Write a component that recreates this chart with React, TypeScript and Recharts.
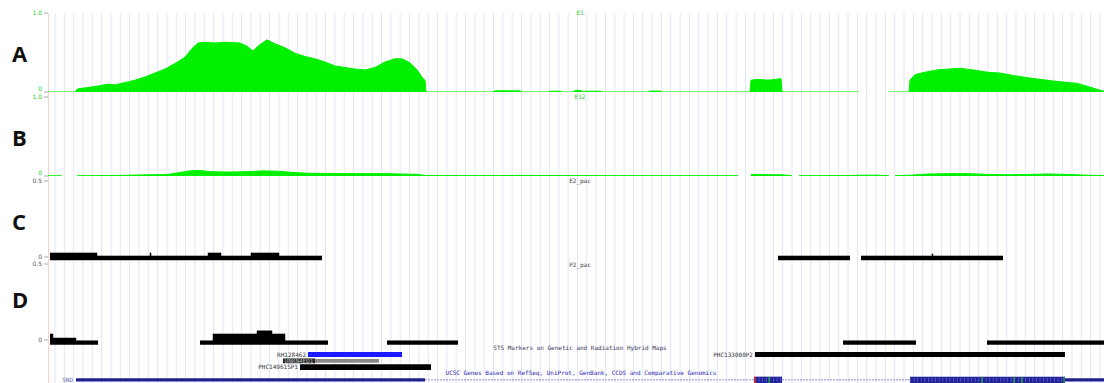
import {
  ComposedChart,
  Area,
  XAxis,
  YAxis,
  ReferenceLine,
  ReferenceArea,
} from 'recharts'

const W = 1104
const H = 383
const SPAN = 1056 // bins across the browser window
const GREEN = '#00f000'

// coverage tracks as [bin, value]; null = no data
const trackA: [number, number | null][] = [
  [0, 0], [27, 0], [28, 0.02], [30, 0.04], [42, 0.06], [52, 0.08], [60, 0.1],
  [67, 0.09], [77, 0.12], [87, 0.15], [97, 0.19], [107, 0.24], [117, 0.29],
  [127, 0.36], [137, 0.44], [144, 0.55], [150, 0.62], [157, 0.63], [167, 0.62],
  [177, 0.63], [192, 0.62], [199, 0.58], [205, 0.52], [212, 0.6], [219, 0.66],
  [227, 0.61], [237, 0.56], [247, 0.49], [257, 0.45], [267, 0.42], [277, 0.38],
  [287, 0.33], [297, 0.31], [307, 0.29], [317, 0.28], [327, 0.31], [337, 0.38],
  [347, 0.42], [354, 0.42], [362, 0.37], [369, 0.28], [375, 0.17], [377, 0.15],
  [378, 0], [445, 0], [447, 0.015], [472, 0.015], [474, 0], [500, 0],
  [502, 0.01], [512, 0.01], [514, 0], [525, 0], [527, 0.02], [533, 0.02],
  [535, 0], [537, 0.01], [552, 0.01], [554, 0], [600, 0], [602, 0.012],
  [612, 0.012], [614, 0], [702, 0], [703, 0.15], [710, 0.16], [720, 0.15],
  [728, 0.16], [733, 0.17], [734, 0], [811, 0], [812, null], [839, null],
  [840, 0], [861, 0], [862, 0.15], [867, 0.22], [877, 0.25], [889, 0.28],
  [900, 0.29], [912, 0.3], [925, 0.28], [940, 0.25], [952, 0.24], [965, 0.21],
  [980, 0.18], [992, 0.16], [1005, 0.14], [1020, 0.12], [1029, 0.11],
  [1040, 0.07], [1050, 0.03], [1056, 0.01],
]

const trackB: [number, number | null][] = [
  [0, 0.003], [14, 0.003], [15, null], [28, null], [29, 0.003], [60, 0.005],
  [80, 0.01], [100, 0.015], [120, 0.02], [132, 0.045], [142, 0.065],
  [152, 0.07], [162, 0.055], [180, 0.05], [200, 0.055], [215, 0.065],
  [230, 0.06], [245, 0.045], [260, 0.035], [300, 0.03], [340, 0.03],
  [370, 0.02], [378, 0.005], [450, 0.005], [470, 0.008], [520, 0.005],
  [600, 0.004], [690, 0.004], [691, null], [702, null], [703, 0.02],
  [734, 0.015], [744, 0.004], [745, null], [750, null], [751, 0.004],
  [800, 0.005], [812, 0.01], [830, 0.01], [841, 0.004], [842, null],
  [846, null], [847, 0.004], [862, 0.01], [880, 0.025], [900, 0.03],
  [920, 0.03], [940, 0.02], [960, 0.015], [980, 0.02], [1000, 0.025],
  [1020, 0.02], [1040, 0.01], [1056, 0.005],
]

// peak-call tracks, step values; low edge of the drawn bar
const trackC: [number, number | null][] = [
  [0, null], [2, 0.027], [49, 0.007], [102, 0.027], [103, 0.007], [160, 0.027],
  [173, 0.007], [203, 0.027], [231, 0.007], [274, 0.007], [275, null],
  [729, null], [730, 0.007], [802, 0.007], [803, null], [812, null],
  [813, 0.007], [884, 0.02], [885, 0.007], [955, 0.007], [956, null],
]
const cLow = -0.02

const trackD: [number, number | null][] = [
  [0, null], [2, 0.04], [5, 0.013], [28, -0.005], [50, -0.005], [51, null],
  [151, null], [152, -0.005], [165, 0.04], [209, 0.06], [224, 0.04],
  [237, -0.005], [280, -0.005], [281, null], [338, null], [339, -0.005],
  [410, -0.005], [411, null], [794, null], [795, -0.005], [868, -0.005],
  [869, null], [938, null], [939, -0.005], [1056, -0.005],
]
const dLow = -0.03

const gridTicks = Array.from({ length: 113 }, (_, i) => 7 + i * 9.33)

// STS markers
const stsNames = ['RH128462', 'PHC133000P2', 'UNRN4ED1', 'PHC14961SP1']
const stsStart = [260, 707, 267, 252]
const stsEnd = [354, 1017, 331, 383]
const stsRow = [0, 0, 1, 2]
const stsColor: Record<string, string> = {
  RH128462: '#1a1aff',
  PHC133000P2: '#000',
  UNRN4ED1: '#8a8a8a',
  PHC14961SP1: '#000',
}

// UCSC gene model
const geneName = 'SND'
const geneRow = 4
const utrStart = [28, 1017]
const utrEnd = [377, 1056]
const intronStart = [377, 734]
const intronEnd = [707, 862]
const exonStart = [707, 862]
const exonEnd = [734, 1017]
const frameMarks = [721, 934, 966, 974, 1016]
const startMark = 707

const tiny = { fontFamily: 'DejaVu Sans', fontSize: 6 }
const mono = { fontFamily: 'DejaVu Sans Mono', fontSize: 6 }

function makeTick(color: string, zeroShift: number) {
  return (p: any) => (
    <text
      x={p.x}
      y={p.y + (p.payload.value === 0 ? zeroShift : 0) + 2}
      textAnchor="end"
      fill={color}
      style={tiny}
    >
      {p.payload.value === 0 ? '0' : Number(p.payload.value).toFixed(1)}
    </text>
  )
}

type TrackProps = {
  top: number
  height: number
  mTop: number
  mBottom: number
  domain: [number, number]
  ticks: number[]
  tickColor: string
  zeroShift: number
  children: React.ReactNode
  data: any[]
}

function Track(p: TrackProps) {
  return (
    <div style={{ position: 'absolute', top: p.top, left: 0 }}>
      <ComposedChart
        width={W}
        height={p.height}
        data={p.data}
        margin={{ top: p.mTop, bottom: p.mBottom, left: 0, right: 0 }}
      >
        <XAxis type="number" dataKey="pos" domain={[0, SPAN]} hide allowDataOverflow />
        <YAxis
          width={48}
          domain={p.domain}
          ticks={p.ticks}
          interval={0}
          allowDataOverflow
          axisLine={false}
          tickSize={4}
          tickLine={{ stroke: '#aaa' }}
          tick={makeTick(p.tickColor, p.zeroShift)}
        />
        {p.children}
      </ComposedChart>
    </div>
  )
}

export default function App() {
  const dataA = trackA.map(([pos, v]) => ({ pos, v }))
  const dataB = trackB.map(([pos, v]) => ({ pos, v }))
  const dataC = trackC.map(([pos, v]) => ({ pos, v: v == null ? null : [cLow, v] }))
  const dataD = trackD.map(([pos, v]) => ({ pos, v: v == null ? null : [dLow, v] }))

  return (
    <div
      style={{
        position: 'absolute',
        top: 0,
        left: 0,
        width: W,
        height: H,
        background: '#fff',
        overflow: 'hidden',
      }}
    >
      {/* browser grid behind every track */}
      <div style={{ position: 'absolute', top: 0, left: 0 }}>
        <ComposedChart
          width={W}
          height={H}
          data={[{ pos: 0, r: 0 }, { pos: SPAN, r: 1 }]}
          margin={{ top: 13, bottom: 0, left: 48, right: 0 }}
        >
          <XAxis type="number" dataKey="pos" domain={[0, SPAN]} hide allowDataOverflow />
          <YAxis type="number" dataKey="r" domain={[0, 1]} hide />
          {gridTicks.map((t) => (
            <ReferenceLine key={t} x={t} stroke="#e4e4fa" strokeWidth={1} />
          ))}
          <ReferenceLine x={0.5} stroke="#ffcccc" strokeWidth={1} />
        </ComposedChart>
      </div>

      <Track top={0} height={96} mTop={13} mBottom={4} domain={[0, 1]} ticks={[0, 1]}
        tickColor="#22cc22" zeroShift={-3} data={dataA}>
        <Area type="linear" dataKey="v" stroke={GREEN} strokeWidth={1} fill={GREEN}
          fillOpacity={1} dot={false} activeDot={false} isAnimationActive={false} />
      </Track>

      <Track top={88} height={92} mTop={9} mBottom={4} domain={[0, 1]} ticks={[0, 1]}
        tickColor="#22cc22" zeroShift={-3} data={dataB}>
        <Area type="linear" dataKey="v" stroke={GREEN} strokeWidth={1} fill={GREEN}
          fillOpacity={1} dot={false} activeDot={false} isAnimationActive={false} />
      </Track>

      <Track top={172} height={92} mTop={9} mBottom={2} domain={[-0.033, 0.5]} ticks={[0, 0.5]}
        tickColor="#555" zeroShift={0} data={dataC}>
        <Area type="stepAfter" dataKey="v" stroke="#000" strokeWidth={0.5} fill="#000"
          fillOpacity={1} dot={false} activeDot={false} isAnimationActive={false} />
      </Track>

      <Track top={256} height={89} mTop={8} mBottom={0} domain={[-0.033, 0.5]} ticks={[0, 0.5]}
        tickColor="#555" zeroShift={0} data={dataD}>
        <Area type="stepAfter" dataKey="v" stroke="#000" strokeWidth={0.5} fill="#000"
          fillOpacity={1} dot={false} activeDot={false} isAnimationActive={false} />
      </Track>

      {/* STS markers and gene model */}
      <div style={{ position: 'absolute', top: 345, left: 0 }}>
        <ComposedChart
          width={W}
          height={38}
          data={[{ pos: 0, r: 0 }, { pos: SPAN, r: 0 }]}
          margin={{ top: 0, bottom: 0, left: 48, right: 0 }}
        >
          <XAxis type="number" dataKey="pos" domain={[0, SPAN]} hide allowDataOverflow />
          <YAxis type="number" dataKey="r" domain={[-1.5, 4.5]} reversed hide allowDataOverflow />
          {stsNames.map((name, i) => {
            const half = name === 'UNRN4ED1' ? 0.3 : name === 'PHC14961SP1' ? 0.45 : 0.4
            const label =
              name === 'UNRN4ED1'
                ? {
                    content: (lp: any) => {
                      const vb = lp.viewBox
                      return (
                        <g>
                          <rect x={vb.x - 32} y={vb.y - 0.5} width={32} height={vb.height + 1} fill="#222" />
                          <text x={vb.x - 16} y={vb.y + vb.height / 2 + 2} textAnchor="middle"
                            fill="#bbb" style={mono}>{name}</text>
                        </g>
                      )
                    },
                  }
                : { value: name, position: 'left' as const, offset: 2, fill: '#333', style: mono }
            return (
              <ReferenceArea
                key={name}
                x1={stsStart[i]}
                x2={stsEnd[i]}
                y1={stsRow[i] - half}
                y2={stsRow[i] + half}
                fill={stsColor[name]}
                fillOpacity={1}
                stroke="none"
                label={label}
              />
            )
          })}

          {intronStart.map((s, i) => (
            <ReferenceLine
              key={'in' + s}
              segment={[{ x: s, y: geneRow }, { x: intronEnd[i], y: geneRow }]}
              stroke="#8a8ad6"
              strokeDasharray="2 1"
            />
          ))}
          {utrStart.map((s, i) => (
            <ReferenceArea
              key={'utr' + s}
              x1={s}
              x2={utrEnd[i]}
              y1={geneRow - 0.25}
              y2={geneRow + 0.25}
              fill="#1f1f8f"
              fillOpacity={1}
              stroke="none"
              label={
                i === 0
                  ? { value: geneName, position: 'left' as const, offset: 3, fill: '#6a6aaa', style: mono }
                  : undefined
              }
            />
          ))}
          {exonStart.map((s, i) => (
            <ReferenceArea
              key={'ex' + s}
              x1={s}
              x2={exonEnd[i]}
              y1={geneRow - 0.5}
              y2={geneRow + 0.5}
              fill="#23239a"
              fillOpacity={1}
              stroke="none"
            />
          ))}
          {exonStart.map((s, i) => (
            <ReferenceLine
              key={'chev' + s}
              segment={[{ x: s, y: geneRow }, { x: exonEnd[i], y: geneRow }]}
              stroke="#5c5cc8"
              strokeWidth={4}
              strokeDasharray="0.8 2.8"
            />
          ))}
          {frameMarks.map((m) => (
            <ReferenceLine
              key={'fm' + m}
              segment={[{ x: m, y: geneRow - 0.5 }, { x: m, y: geneRow + 0.5 }]}
              stroke="#22cc22"
              strokeWidth={1}
            />
          ))}
          <ReferenceArea
            x1={startMark - 1}
            x2={startMark + 1}
            y1={geneRow - 0.5}
            y2={geneRow + 0.5}
            fill="#e01010"
            fillOpacity={1}
            stroke="none"
          />
        </ComposedChart>
      </div>

      {/* panel letters and track titles */}
      <svg width={W} height={H} style={{ position: 'absolute', top: 0, left: 0, pointerEvents: 'none' }}>
        <g fontFamily="Open Sans" fontWeight="bold" fontSize={22} fill="#111">
          <text x={12} y={62}>A</text>
          <text x={12} y={146}>B</text>
          <text x={12} y={230}>C</text>
          <text x={12} y={308}>D</text>
        </g>
        <g style={mono} textAnchor="middle">
          <text x={580} y={15} fill="#22cc22">E1</text>
          <text x={580} y={99} fill="#22cc22">E12</text>
          <text x={580} y={183} fill="#444">E2_pac</text>
          <text x={580} y={267} fill="#444">P2_pac</text>
          <text x={580} y={350} fill="#3a3a5a">STS Markers on Genetic and Radiation Hybrid Maps</text>
          <text x={581} y={375} fill="#2a2ab0">
            UCSC Genes Based on RefSeq, UniProt, GenBank, CCDS and Comparative Genomics
          </text>
        </g>
      </svg>
    </div>
  )
}
